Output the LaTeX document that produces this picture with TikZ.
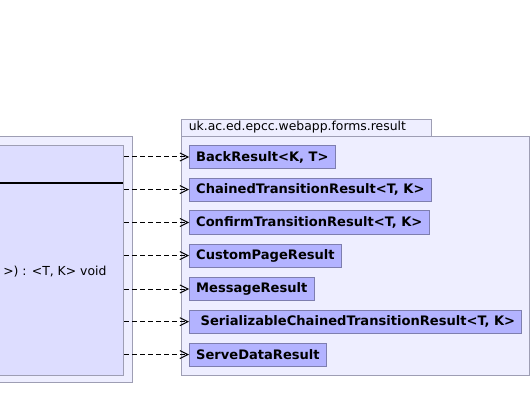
\documentclass[tikz,border=0pt]{standalone}
\usepackage{fontspec}
\setmainfont{DejaVu Sans}
\usetikzlibrary{arrows.meta}
\definecolor{pkgfill}{HTML}{EEEEFF}
\definecolor{pkgline}{HTML}{9E9EB4}
\definecolor{clsfill}{HTML}{DDDDFF}
\definecolor{resfill}{HTML}{B3B3FF}
\definecolor{resline}{HTML}{7E7EAE}
\tikzset{
  pkgbox/.style={draw=pkgline, fill=pkgfill, line width=0.75pt},
  clsbox/.style={draw=pkgline, fill=clsfill, line width=0.75pt},
  resbox/.style={draw=resline, fill=resfill, line width=0.75pt, anchor=west,
    minimum height=17.25pt, inner xsep=5pt, inner ysep=0pt,
    font=\fontsize{9.8pt}{11pt}\selectfont\bfseries},
  realize/.style={draw=black, line width=0.75pt, dash pattern=on 3.8pt off 2.2pt,
    -{Straight Barb[length=6pt,width=6pt,line width=0.75pt]}},
  plain/.style={font=\fontsize{9.3pt}{11pt}\selectfont, inner sep=0pt}
}
\begin{document}
\begin{tikzpicture}[x=0.75pt,y=-0.75pt]
\useasboundingbox (0,0) rectangle (531,420);
\clip (0,0) rectangle (531,420);
\fill[white] (0,0) rectangle (531,420);
% left package and class
\node[pkgbox, inner sep=0pt, minimum width=151.5pt, minimum height=184.5pt, anchor=north west] (pkgL) at (-70,136) {};
\node[clsbox, inner sep=0pt, minimum width=144pt, minimum height=172.5pt, anchor=north west] (cls) at (-69,145) {};
\draw[line width=1.5pt, black] (-69,183.5) -- (123,183.5);
\node[plain, anchor=west] (op) at (3,272) {>) : <T, K> void};
% right package
\node[pkgbox, inner sep=0pt, minimum width=187.5pt, minimum height=12.75pt, anchor=north west] (tab) at (181,119.5) {};
\node[plain, anchor=west] (pkgname) at (188.5,127.5) {uk.ac.ed.epcc.webapp.forms.result};
\node[pkgbox, inner sep=0pt, minimum width=261pt, minimum height=179.25pt, anchor=north west] (pkgR) at (181,136) {};
% result classes
\node[resbox] (r1) at (189,157) {BackResult<K, T>};
\node[resbox] (r2) at (189,189.6) {ChainedTransitionResult<T, K>};
\node[resbox] (r3) at (189,222.5) {ConfirmTransitionResult<T, K>};
\node[resbox] (r4) at (189,255.6) {CustomPageResult};
\node[resbox] (r5) at (189,289) {MessageResult};
\node[resbox] (r6) at (189,321.7) {\ SerializableChainedTransitionResult<T, K>};
\node[resbox] (r7) at (189,354.6) {ServeDataResult};
% realizations
\foreach \r in {r1,r2,r3,r4,r5,r6,r7}{
  \draw[realize] (cls.east |- \r.west) -- (\r.west);
}
\end{tikzpicture}
\end{document}
